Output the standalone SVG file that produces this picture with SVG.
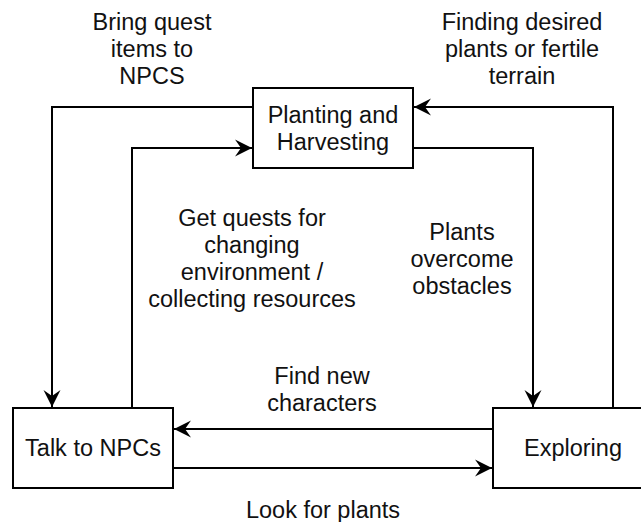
<svg xmlns="http://www.w3.org/2000/svg" width="641" height="522" viewBox="0 0 641 522">
  <style>
    .box { fill: #ffffff; stroke: #000000; stroke-width: 2; }
    .edge { fill: none; stroke: #000000; stroke-width: 2; marker-end: url(#arrow); }
    text { font-family: "Liberation Sans", Arial, Helvetica, sans-serif; font-size: 23.5px; fill: #111111; text-anchor: middle; }
  </style>
  <defs>
    <marker id="arrow" markerUnits="userSpaceOnUse" viewBox="-17 -9 18 18" refX="0" refY="0" markerWidth="18" markerHeight="18" orient="auto">
      <path d="M0,0 L-17,-8.5 L-11,0 L-17,8.5 Z" fill="#000000"/>
    </marker>
  </defs>
  <rect width="641" height="522" fill="#ffffff"/>

  <g id="connectors">
    <path class="edge" d="M253,107 H52 V407"/>
    <path class="edge" d="M132,408 V148 H252"/>
    <path class="edge" d="M613,408 V107 H414"/>
    <path class="edge" d="M413,148 H533 V407"/>
    <path class="edge" d="M493,429 H174"/>
    <path class="edge" d="M173,468 H492"/>
  </g>

  <g id="edge-labels">
    <text x="152" y="29.5">Bring quest</text>
    <text x="152" y="56.5">items to</text>
    <text x="152" y="83.5">NPCS</text>
    <text x="522" y="29.5">Finding desired</text>
    <text x="522" y="56.5">plants or fertile</text>
    <text x="522" y="83.5">terrain</text>
    <text x="252" y="226">Get quests for</text>
    <text x="252" y="253">changing</text>
    <text x="252" y="280">environment /</text>
    <text x="252" y="307">collecting resources</text>
    <text x="462" y="240">Plants</text>
    <text x="462" y="267">overcome</text>
    <text x="462" y="294">obstacles</text>
    <text x="322" y="384">Find new</text>
    <text x="322" y="411">characters</text>
    <text x="323" y="518">Look for plants</text>
  </g>

  <g id="planting">
    <rect class="box" x="253" y="88" width="160" height="80"/>
    <text x="333" y="123">Planting and</text>
    <text x="333" y="150">Harvesting</text>
  </g>

  <g id="talk">
    <rect class="box" x="13" y="408" width="160" height="80"/>
    <text x="93" y="456">Talk to NPCs</text>
  </g>

  <g id="exploring">
    <rect class="box" x="493" y="408" width="160" height="80"/>
    <text x="573" y="456">Exploring</text>
  </g>
</svg>
